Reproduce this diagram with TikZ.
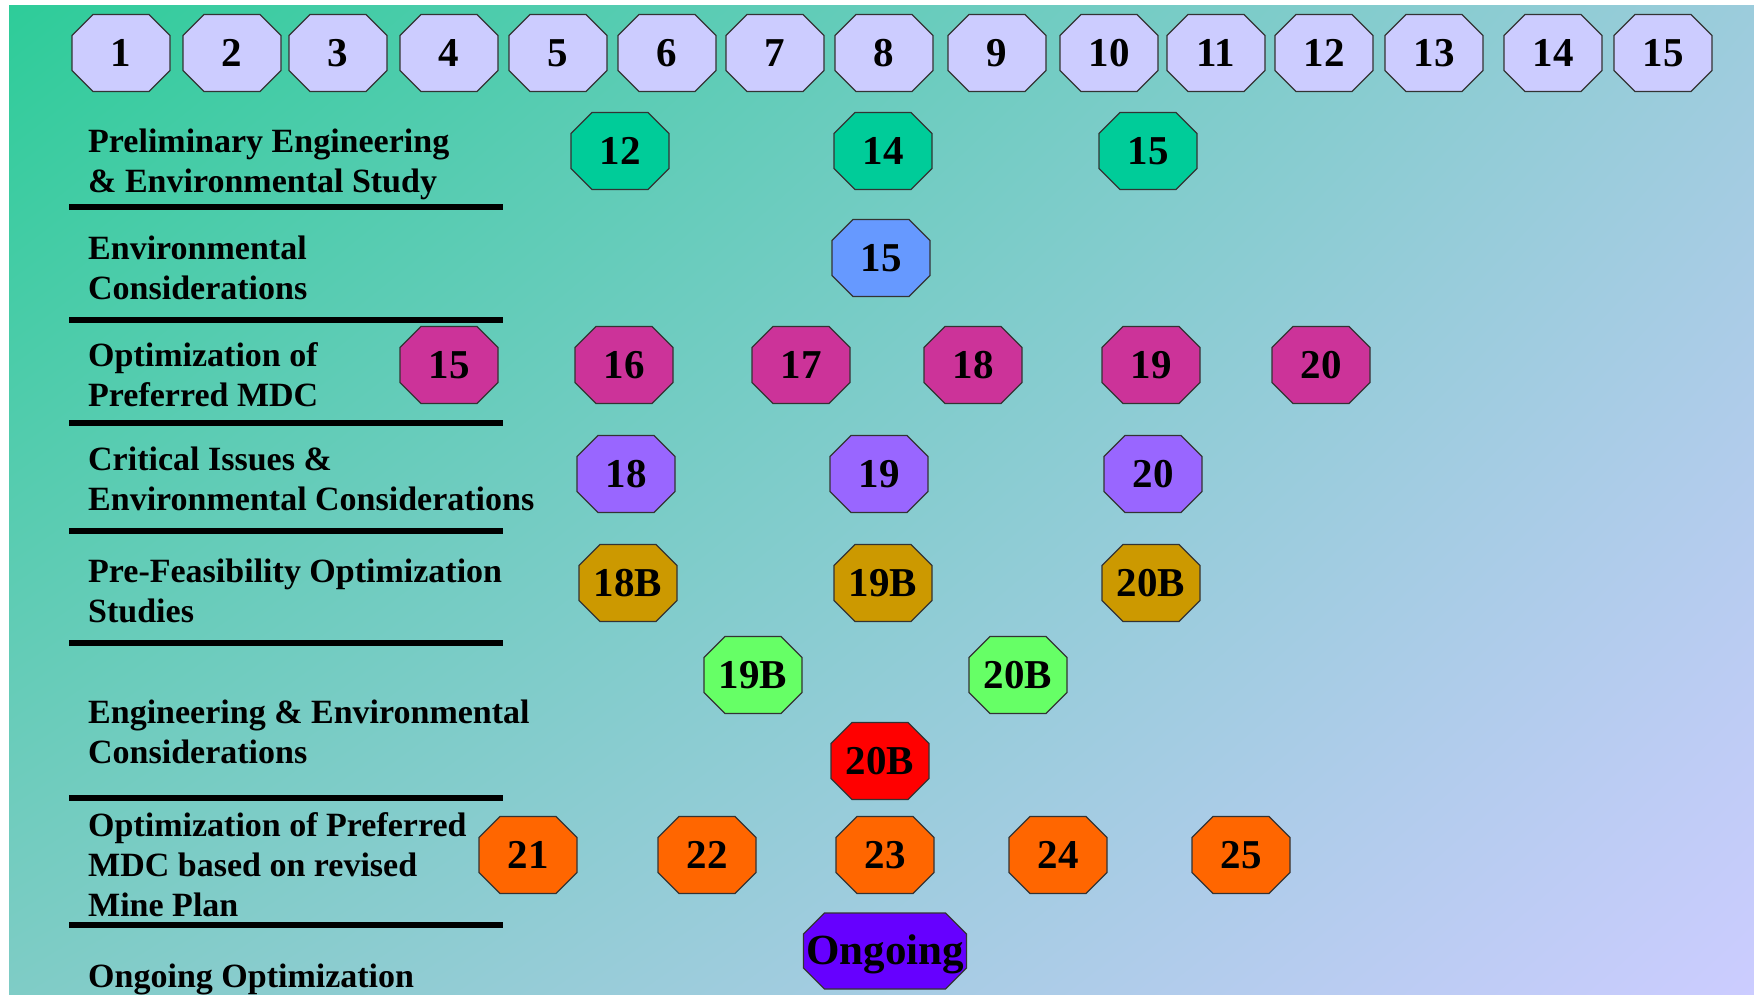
\documentclass[tikz,border=0pt]{standalone}
\usepackage{fontspec}
\setmainfont{Liberation Serif}
\usetikzlibrary{shapes.misc,shadings}

% colores del fondo y de las fases
\definecolor{fondoA}{HTML}{2ECC99}
\definecolor{fondoB}{HTML}{9CCCDC}
\definecolor{fondoC}{HTML}{7FCCC6}
\definecolor{lila}{HTML}{CCCCFF}
\definecolor{turquesa}{HTML}{00CC99}
\definecolor{celeste}{HTML}{6699FF}
\definecolor{magenta}{HTML}{CC3399}
\definecolor{morado}{HTML}{9966FF}
\definecolor{ocre}{HTML}{CC9900}
\definecolor{verde}{HTML}{66FF66}
\definecolor{rojo}{HTML}{FF0000}
\definecolor{naranja}{HTML}{FF6600}
\definecolor{violeta}{HTML}{6600FF}

% caja central del octogono (el chaflan se suma por fuera)
\newcommand{\celda}[2][77pt]{\makebox[#1]{#2}}

\begin{document}
\begin{tikzpicture}[x=1pt, y=-1pt,
    octo/.style={chamfered rectangle, chamfered rectangle xsep=10.5pt,
      chamfered rectangle ysep=10.5pt, draw=black!80, line width=1.3pt,
      inner sep=0pt, minimum size=0pt, text height=41.5pt, text depth=14.5pt,
      font=\fontsize{41}{41}\selectfont\bfseries},
    fase/.style={anchor=west, align=left, inner sep=0pt,
      font=\fontsize{34}{40}\selectfont\bfseries},
    raya/.style={line width=6pt}]
  \useasboundingbox (0,0) rectangle (1754,995);

  % Fondo degradado
  \shade[upper left=fondoA, upper right=fondoB, lower left=fondoC, lower right=lila]
    (9,6) rectangle (1754,995);

  % Fila de meses
  \foreach \n/\x in {1/121,2/232,3/338,4/449,5/558,6/667,7/775,8/884,
                     9/997,10/1109,11/1216,12/1324,13/1434,14/1553,15/1663}
    \node[octo, fill=lila] (mes\n) at (\x,53) {\celda{\n}};

  % Rayas entre las fases
  \foreach \y in {207,320,423,531,643,798,925}
    \draw[raya] (69,\y) -- (503,\y);

  % Nombres de las fases
  \node[fase] (fase1) at (88,164) {Preliminary Engineering\\\& Environmental Study};
  \node[fase] (fase2) at (88,268) {Environmental\\Considerations};
  \node[fase] (fase3) at (88,375) {Optimization of\\Preferred MDC};
  \node[fase] (fase4) at (88,479) {Critical Issues \&\\Environmental Considerations};
  \node[fase] (fase5) at (88,591) {Pre-Feasibility Optimization\\Studies};
  \node[fase] (fase6) at (88,732) {Engineering \& Environmental\\Considerations};
  \node[fase] (fase7) at (88,865) {Optimization of Preferred\\MDC based on revised\\Mine Plan};
  \node[fase] (fase8) at (88,979) {Ongoing Optimization};

  % Preliminary Engineering
  \foreach \t/\x in {12/620,14/883,15/1148}
    \node[octo, fill=turquesa] (pe\t) at (\x,151) {\celda{\t}};

  % Environmental Considerations
  \node[octo, fill=celeste] (ec15) at (881,258) {\celda{15}};

  % Optimization of Preferred MDC
  \foreach \t/\x in {15/449,16/624,17/801,18/973,19/1151,20/1321}
    \node[octo, fill=magenta] (op\t) at (\x,365) {\celda{\t}};

  % Critical Issues
  \foreach \t/\x in {18/626,19/879,20/1153}
    \node[octo, fill=morado] (ci\t) at (\x,474) {\celda{\t}};

  % Pre-Feasibility
  \foreach \t/\x in {18/628,19/883,20/1151}
    \node[octo, fill=ocre] (pf\t) at (\x,583) {\celda{\t B}};

  % Engineering & Environmental
  \node[octo, fill=verde] (ee19) at (753,675) {\celda{19B}};
  \node[octo, fill=verde] (ee20) at (1018,675) {\celda{20B}};
  \node[octo, fill=rojo] (ee20r) at (880,761) {\celda{20B}};

  % Optimization on revised Mine Plan
  \foreach \t/\x in {21/528,22/707,23/885,24/1058,25/1241}
    \node[octo, fill=naranja] (mp\t) at (\x,855) {\celda{\t}};

  % Ongoing
  \node[octo, fill=violeta, text height=41pt, text depth=14pt,
    font=\fontsize{43}{43}\selectfont\bfseries] (ongoing) at (885,951) {\celda[142pt]{Ongoing}};
\end{tikzpicture}
\end{document}
